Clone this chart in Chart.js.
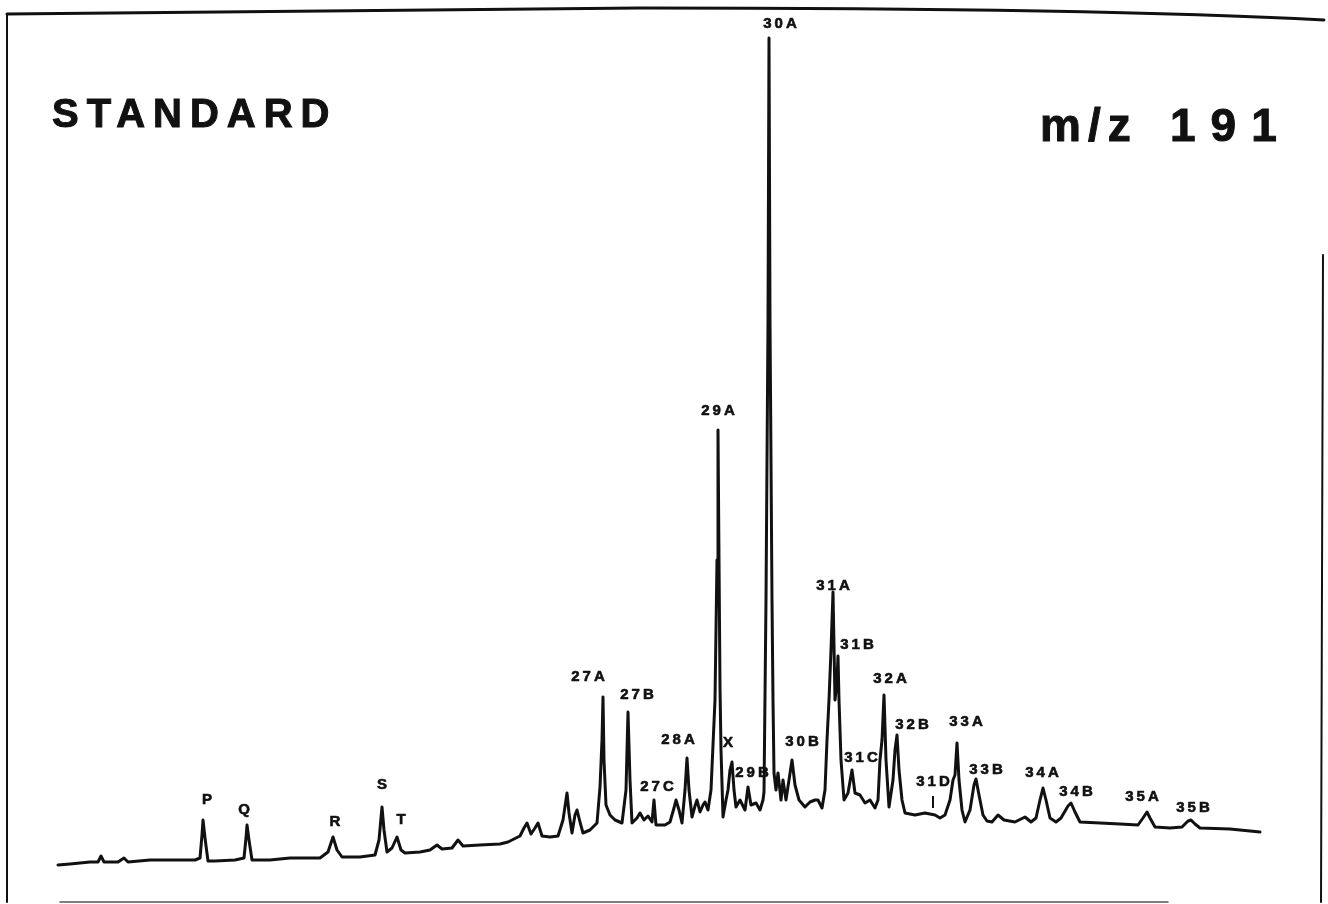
<!DOCTYPE html>
<html>
<head>
<meta charset="utf-8">
<script src="https://cdn.jsdelivr.net/npm/chart.js@4.4.1/dist/chart.umd.min.js"></script>
<style>
    html, body { margin: 0; padding: 0; background: #fff; }
    #wrap { width: 1328px; height: 904px; position: relative; }
</style>
</head>
<body>
<div id="wrap"><canvas id="trace"></canvas></div>
<script>
// m/z 191 mass chromatogram, scan number vs. ion intensity
const scans = [
    58, 70, 90, 98, 101, 104, 118, 124, 128, 150, 175, 195, 200, 202, 203, 205, 208, 215, 235, 244,
    246, 247, 249, 252, 270, 290, 320, 328, 333, 337, 342, 360, 375, 379, 382, 384, 387, 392, 397, 401,
    405, 420, 430, 437, 442, 452, 458, 463, 480, 500, 508, 520, 524, 527, 531, 535, 538, 542, 550, 558,
    563, 567, 569, 572, 575, 577, 580, 583, 590, 597, 600, 602, 603, 604, 606, 610, 615, 622, 626, 628,
    630, 632, 637, 640, 644, 648, 652, 654, 656, 665, 670, 674, 676, 679, 682, 685, 687, 689, 692, 695,
    697, 700, 703, 705, 708, 711, 713, 715, 717, 718, 719, 720, 721, 723, 726, 728, 730, 732, 734, 736,
    740, 745, 748, 751, 756, 760, 763, 764, 766, 768, 769, 770, 772, 773, 774, 776, 778, 781, 783, 786,
    789, 792, 795, 799, 805, 810, 815, 818, 822, 825, 827, 829, 831, 833, 835, 837, 838, 839, 841, 844,
    848, 852, 855, 860, 865, 870, 875, 878, 880, 882, 884, 886, 889, 893, 895, 897, 899, 902, 905, 915,
    925, 935, 940, 945, 950, 953, 955, 957, 959, 962, 965, 970, 974, 976, 979, 983, 987, 992, 998, 1004,
    1015, 1025, 1031, 1036, 1040, 1043, 1046, 1050, 1056, 1061, 1068, 1071, 1075, 1080, 1100, 1120, 1138, 1143, 1147, 1150,
    1155, 1170, 1182, 1188, 1191, 1195, 1200, 1230, 1260
];
const intensity = [
    17, 18, 20, 20, 26, 20, 20, 24, 20, 22, 22, 22, 24, 47, 62, 44, 21, 21, 22, 24,
    44, 57, 42, 22, 22, 24, 24, 30, 45, 32, 25, 25, 27, 42, 75, 52, 30, 34, 45, 32,
    29, 30, 32, 37, 33, 34, 42, 36, 37, 38, 40, 46, 54, 59, 48, 54, 59, 46, 45, 46,
    62, 89, 69, 49, 67, 72, 60, 49, 52, 59, 95, 142, 185, 122, 77, 67, 62, 59, 92, 170,
    102, 59, 64, 69, 62, 66, 60, 82, 57, 57, 60, 74, 82, 72, 59, 92, 124, 92, 65, 76,
    82, 70, 77, 80, 72, 92, 137, 182, 322, 452, 322, 195, 132, 65, 82, 92, 112, 120, 92, 75,
    82, 72, 95, 77, 79, 72, 82, 90, 282, 560, 844, 560, 282, 182, 109, 92, 109, 82, 102, 82,
    102, 122, 97, 82, 75, 80, 82, 82, 74, 92, 142, 182, 232, 290, 182, 202, 226, 182, 122, 82,
    89, 112, 89, 87, 79, 82, 74, 82, 122, 142, 187, 122, 75, 102, 132, 147, 112, 82, 69, 67,
    69, 67, 64, 67, 82, 102, 107, 139, 102, 72, 60, 72, 97, 103, 87, 67, 61, 60, 67, 62,
    60, 65, 60, 64, 82, 94, 82, 64, 60, 64, 76, 79, 70, 60, 59, 58, 57, 64, 70, 64,
    55, 54, 55, 61, 62, 58, 54, 53, 50
];

// peak identifications and where their tags sit (scan, intensity)
const peakNames = ['P', 'Q', 'R', 'S', 'T', '27A', '27B', '27C', '28A', '29A', 'X', '29B', '30A', '30B',
    '31A', '31B', '31C', '31D', '32A', '32B', '33A', '33B', '34A', '34B', '35A', '35B'];
const tagScan = [207, 244, 335, 382, 401, 588, 637, 657, 678, 718, 728, 752, 780, 802,
    833, 857, 861, 933, 890, 912, 966, 986, 1042, 1076, 1142, 1193];
const tagLevel = [82, 72, 60, 97, 62, 205, 187, 95, 142, 471, 139, 109, 858, 140,
    296, 237, 124, 100, 203, 157, 160, 112, 109, 90, 85, 74];

const points = scans.map((s, i) => ({ x: s, y: intensity[i] }));

// frame + headings around the trace
const framePlugin = {
    id: 'frame',
    afterDraw(chart) {
        const c = chart.ctx;
        const w = chart.width, h = chart.height;
        c.save();
        c.strokeStyle = '#111';
        c.lineCap = 'round';
        c.lineWidth = 3;
        c.beginPath();
        c.moveTo(7, 14);
        c.quadraticCurveTo(300, 10, 640, 8);
        c.quadraticCurveTo(1100, 8, w - 4, 20);
        c.stroke();
        c.lineWidth = 2;
        c.beginPath();
        c.moveTo(7, 14);
        c.lineTo(7, h - 2);
        c.moveTo(w - 5, 255);
        c.lineTo(w - 7, h - 2);
        c.stroke();
        c.lineWidth = 1.5;
        c.strokeStyle = '#555';
        c.beginPath();
        c.moveTo(60, h - 2);
        c.lineTo(w - 160, h - 2);
        c.stroke();

        c.fillStyle = '#111';
        c.strokeStyle = '#111';
        c.lineWidth = 1;
        c.textBaseline = 'middle';
        c.font = 'bold 40px "Liberation Sans", Arial, sans-serif';
        c.letterSpacing = '8px';
        c.textAlign = 'left';
        c.fillText('STANDARD', 52, 116);
        c.strokeText('STANDARD', 52, 116);
        c.font = 'bold 46px "Liberation Sans", Arial, sans-serif';
        c.letterSpacing = '7px';
        c.fillText('m/z', 1040, 128);
        c.strokeText('m/z', 1040, 128);
        c.letterSpacing = '15px';
        c.fillText('191', 1170, 128);
        c.strokeText('191', 1170, 128);
        c.restore();
    }
};

const tagPlugin = {
    id: 'peakTags',
    afterDatasetsDraw(chart) {
        const c = chart.ctx;
        const xs = chart.scales.x, ys = chart.scales.y;
        c.save();
        c.fillStyle = '#111';
        c.strokeStyle = '#111';
        c.textAlign = 'center';
        c.textBaseline = 'middle';
        c.font = 'bold 15px "Liberation Sans", Arial, sans-serif';
        c.letterSpacing = '3px';
        peakNames.forEach((name, i) => {
            const px = xs.getPixelForValue(tagScan[i]);
            const py = ys.getPixelForValue(tagLevel[i]);
            c.lineWidth = 0.6;
            c.fillText(name, px + 1.5, py);
            c.strokeText(name, px + 1.5, py);
            if (name === '31D') {
                c.lineWidth = 2;
                c.beginPath();
                c.moveTo(px, py + 14);
                c.lineTo(px, py + 26);
                c.stroke();
            }
        });
        c.restore();
    }
};

new Chart(document.getElementById('trace'), {
    type: 'scatter',
    data: {
        datasets: [{
            data: points,
            showLine: true,
            borderColor: '#111',
            borderWidth: 3,
            pointRadius: 0,
            tension: 0,
            borderJoinStyle: 'round',
            borderCapStyle: 'round'
        }]
    },
    options: {
        responsive: true,
        maintainAspectRatio: false,
        animation: false,
        layout: { padding: { left: 0, right: 0, top: 0, bottom: 22 } },
        plugins: { legend: { display: false }, tooltip: { enabled: false } },
        scales: {
            x: { type: 'linear', min: 0, max: 1328, display: false },
            y: { type: 'linear', min: 0, max: 882, display: false }
        }
    },
    plugins: [framePlugin, tagPlugin]
});
</script>
</body>
</html>
